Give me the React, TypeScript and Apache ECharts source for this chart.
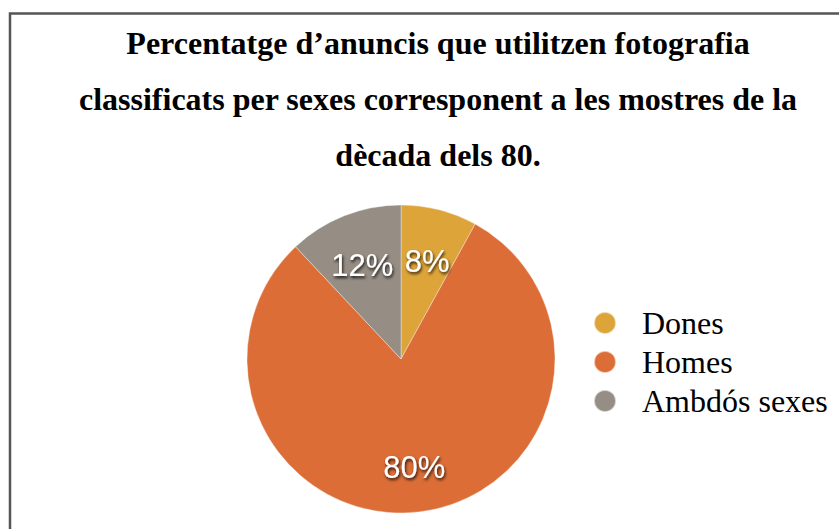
import React, { useEffect, useRef } from "react";
import * as echarts from "echarts";

const categories = ["Dones", "Homes", "Ambdós sexes"];
const values = [8, 80, 12];
const colors = ["#DDA43A", "#DC6D37", "#968D84"];
const titleText =
  "Percentatge d\u2019anuncis que utilitzen fotografia\nclassificats per sexes corresponent a les mostres de la\ndècada dels 80.";

export default function App() {
  const ref = useRef<HTMLDivElement>(null);
  useEffect(() => {
    document.body.style.margin = "0";
    const chart = echarts.init(ref.current!, null, { renderer: "svg" });
    const data = categories.map((name, i) => ({
      name,
      value: values[i],
      itemStyle: { color: colors[i] },
    }));
    chart.setOption({
      animation: false,
      backgroundColor: "#ffffff",
      title: {
        text: titleText,
        left: 438,
        top: 15,
        padding: 0,
        textAlign: "center",
        textStyle: {
          fontFamily: "Liberation Serif",
          fontWeight: "bold",
          fontSize: 32,
          lineHeight: 56,
          color: "#000",
        },
      },
      legend: {
        orient: "vertical",
        left: 593,
        top: 307,
        padding: 0,
        icon: "circle",
        itemWidth: 22,
        itemHeight: 22,
        itemGap: 7,
        data: categories,
        textStyle: {
          fontFamily: "Liberation Serif",
          fontSize: 32,
          lineHeight: 30,
          color: "#000",
          padding: [0, 0, 0, 21],
        },
      },
      graphic: [
        {
          type: "rect",
          shape: { x: 10, y: 13.5, width: 900, height: 600 },
          style: { fill: "none", stroke: "#555", lineWidth: 2.5 },
          silent: true,
        },
      ],
      series: [
        {
          type: "pie",
          center: [401, 359],
          radius: [0, 154],
          startAngle: 90,
          clockwise: true,
          data,
          label: { show: false },
          labelLine: { show: false },
          itemStyle: { borderColor: "rgba(255,255,255,0.6)", borderWidth: 0.6 },
          emphasis: { disabled: true },
        },
        {
          type: "pie",
          center: [401, 359],
          radius: [0, 204],
          startAngle: 90,
          clockwise: true,
          silent: true,
          data: categories.map((name, i) => ({ name, value: values[i] })),
          itemStyle: { color: "rgba(0,0,0,0)" },
          legendHoverLink: false,
          labelLayout: { dy: 4 },
          label: {
            show: true,
            position: "inside",
            formatter: "{c}%",
            fontFamily: "Liberation Sans",
            fontSize: 31,
            color: "#fff",
            textShadowColor: "rgba(0,0,0,0.85)",
            textShadowBlur: 3,
            textShadowOffsetX: 1,
            textShadowOffsetY: 2,
          },
          labelLine: { show: false },
          emphasis: { disabled: true },
        },
      ],
    });
    return () => chart.dispose();
  }, []);
  return <div ref={ref} style={{ width: 839, height: 529 }} />;
}
